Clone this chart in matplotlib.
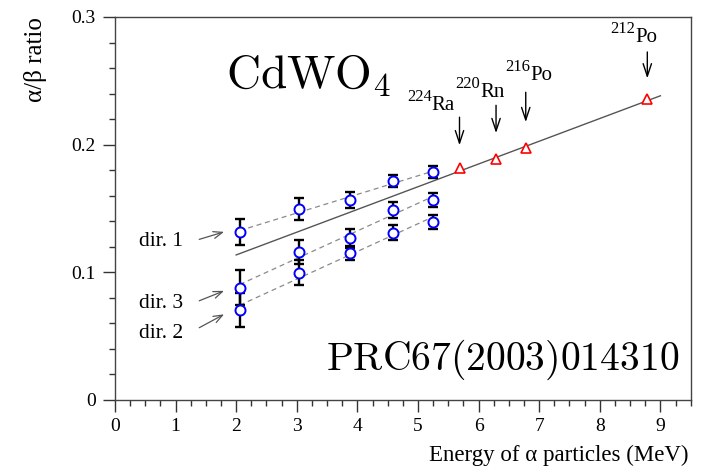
import numpy as np
import matplotlib
matplotlib.use("Agg")
import matplotlib.pyplot as plt
from matplotlib.ticker import MultipleLocator, FuncFormatter

plt.rcParams['font.family'] = ['Liberation Serif', 'DejaVu Serif']
plt.rcParams['mathtext.fontset'] = 'cm'

# Step 1

# external alpha source, three crystal directions
energy_dir = np.array([2.06, 3.04, 3.88, 4.58, 5.24])
ratio_dir1 = np.array([0.1318, 0.1494, 0.1567, 0.1715, 0.1783])
err_dir1 = np.array([0.0102, 0.0085, 0.0065, 0.0048, 0.0046])
ratio_dir3 = np.array([0.0880, 0.1162, 0.1266, 0.1488, 0.1567])
err_dir3 = np.array([0.0136, 0.0095, 0.0075, 0.0065, 0.0052])
ratio_dir2 = np.array([0.0705, 0.0997, 0.1149, 0.1310, 0.1397])
err_dir2 = np.array([0.0130, 0.0098, 0.0055, 0.0060, 0.0055])

# internal alphas (Th chain)
iso_mass = ['224', '220', '216', '212']
iso_symbol = ['Ra', 'Rn', 'Po', 'Po']
iso_energy = np.array([5.685, 6.288, 6.778, 8.784])
iso_ratio = np.array([0.1818, 0.1884, 0.1970, 0.2356])

# overall linear fit (solid line)
fit_range = np.array([2.0, 9.0])
fit_slope = 0.01781
fit_intercept = 0.0780

x_ticks = [0, 1, 2, 3, 4, 5, 6, 7, 8, 9]
y_ticks = [0, 0.1, 0.2, 0.3]

# Step 2 - layout of the annotations (data coords / offsets in points)
dir_labels = ['dir. 1', 'dir. 3', 'dir. 2']
dir_label_pos = [(0.40, 0.1205), (0.40, 0.0722), (0.40, 0.0485)]
dir_arrow_tail = [(1.39, 0.1258), (1.39, 0.0777), (1.39, 0.0566)]
dir_arrow_head = [(1.80, 0.1317), (1.80, 0.0855), (1.80, 0.0671)]

iso_label_pos = [(5.225, 0.227), (6.023, 0.2374), (6.848, 0.2505), (8.58, 0.2804)]
iso_arrow_tail = [36.5, 39, 40.5, 34]
iso_arrow_gap = [16.3, 19, 19, 15]

# Step 3 - plot
fig = plt.figure(figsize=(7.02, 4.67), dpi=100)
ax = fig.add_axes([0.1638, 0.1435, 0.8201, 0.8201])

ax.plot(fit_range, fit_slope * fit_range + fit_intercept, color='#555555', lw=1.0, zorder=2)

for ratio, err in [(ratio_dir1, err_dir1), (ratio_dir3, err_dir3), (ratio_dir2, err_dir2)]:
    coef = np.polyfit(energy_dir, ratio, 1)
    xs = np.array([energy_dir.min(), energy_dir.max()])
    ax.plot(xs, np.polyval(coef, xs), color='#8a8a8a', lw=0.9, ls=(0, (4, 3)), zorder=2)
    ax.errorbar(energy_dir, ratio, yerr=err, fmt='none', ecolor='black',
                elinewidth=1.7, capsize=3.8, capthick=1.7, zorder=3)
    ax.plot(energy_dir, ratio, 'o', mfc='white', mec='#0000ff', ms=7.2, mew=1.4, zorder=4)

ax.plot(iso_energy, iso_ratio, '^', mfc='white', mec='#ff0000', ms=7.5, mew=1.2, zorder=4)

# isotope names with arrows
for i in range(len(iso_energy)):
    sx, by = iso_label_pos[i]
    ax.annotate(iso_mass[i], xy=(sx, by), xytext=(0, 6.5), textcoords='offset points',
                ha='right', va='baseline', fontsize=12)
    ax.text(sx, by, iso_symbol[i], ha='left', va='baseline', fontsize=15)
    ax.annotate('', xy=(iso_energy[i], iso_ratio[i]), xytext=(0, iso_arrow_tail[i]),
                textcoords='offset points',
                arrowprops=dict(arrowstyle='->,head_length=0.9,head_width=0.3', color='black',
                                lw=1.0, shrinkA=0, shrinkB=iso_arrow_gap[i]))

# direction labels
for i in range(3):
    ax.text(dir_label_pos[i][0], dir_label_pos[i][1], dir_labels[i],
            ha='left', va='baseline', fontsize=15.5)
    ax.annotate('', xy=dir_arrow_head[i], xytext=dir_arrow_tail[i],
                arrowprops=dict(arrowstyle='->,head_length=0.65,head_width=0.25', color='#555555',
                                lw=0.9, shrinkA=0, shrinkB=0))

ax.text(1.83, 0.244, r'$\mathrm{CdWO}_4$', ha='left', va='baseline', fontsize=34)
ax.text(3.49, 0.0235, r'$\mathrm{PRC67(2003)014310}$', ha='left', va='baseline', fontsize=28.5)

# Step 4 - axes
ax.set_xlim(0, 9.5)
ax.set_ylim(0, 0.3)
ax.set_xticks(x_ticks)
ax.set_yticks(y_ticks)
ax.xaxis.set_minor_locator(MultipleLocator(0.25))
ax.yaxis.set_minor_locator(MultipleLocator(0.02))
ax.yaxis.set_major_formatter(FuncFormatter(lambda v, p: '0' if v == 0 else '%.1f' % v))
ax.tick_params(axis='both', which='major', direction='out', length=8.5, width=1.0,
               color='#333333', labelsize=14)
ax.tick_params(axis='both', which='minor', direction='out', length=4.5, width=1.0, color='#333333')
ax.tick_params(axis='x', pad=4.5)
ax.tick_params(axis='y', pad=5.5)
for s in ax.spines.values():
    s.set_color('#444444')
    s.set_linewidth(1.0)

ax.set_xlabel(r'Energy of α particles (MeV)', fontsize=16.5, ha='right')
ax.xaxis.set_label_coords(0.997, -0.117)
ax.set_ylabel(r'α/β ratio', fontsize=18, ha='right')
ax.yaxis.set_label_coords(-0.118, 1.0)

fig.savefig('out.png', dpi=100)
